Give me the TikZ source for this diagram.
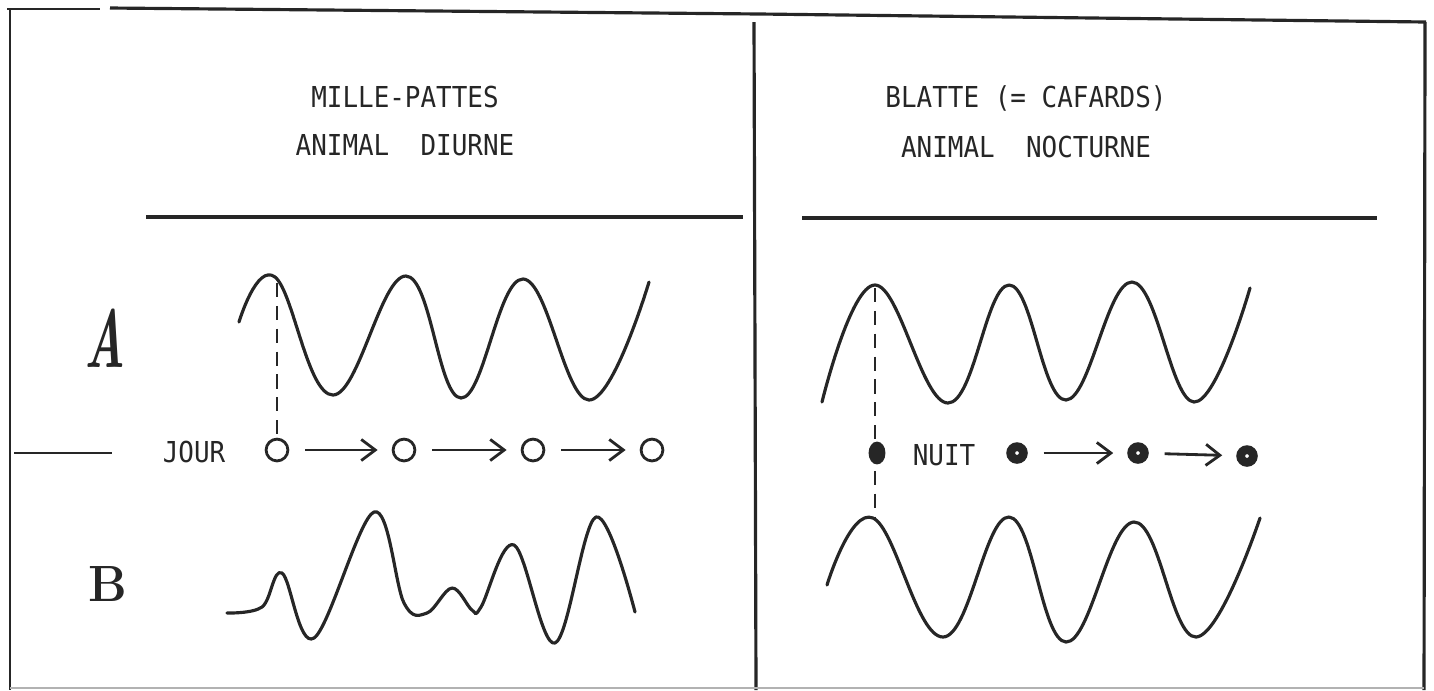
\documentclass[tikz,border=0pt]{standalone}
\usepackage{fontspec}
\newfontfamily\printfont[FakeStretch=0.9]{DejaVu Sans Mono}
\usetikzlibrary{arrows.meta, shapes.geometric}
\colorlet{ink}{black!85}
\begin{document}
\begin{tikzpicture}[x=0.01cm, y=-0.01cm, ink,
    frame/.style={line width=0.9pt},
    wave/.style={line width=0.9pt, line cap=round, line join=round},
    label/.style={font=\printfont\fontsize{8.2}{10}\selectfont, inner sep=0pt, anchor=base},
    day/.style={circle, draw, line width=0.8pt, minimum size=6.2pt, inner sep=0pt},
    night/.style={circle, draw, fill=white, line width=2.5pt, minimum size=3.6pt, inner sep=0pt},
    hop/.style={-{Straight Barb[length=4pt, width=6pt]}, line width=0.8pt, shorten <=4.5pt, shorten >=4pt}]
    \useasboundingbox (0,0) rectangle (1434,690);

    % Frame
    \draw[line width=0.6pt] (7,9) -- (100,9);
    \draw[frame] (110,8) -- (760,14) -- (1426,22);
    \draw[line width=0.5pt] (10,9) -- (10,690);
    \draw[frame] (754,22) -- (756,690);
    \draw[frame] (1425,22) -- (1424,690);
    \draw[line width=0.4pt, black!30] (10,688) -- (1424,688);
    \draw[line width=0.7pt] (14,453) -- (112,453);

    % Titles
    \node[label] (millepattes) at (405,107) {MILLE-PATTES};
    \node[label] (diurne) at (405,155) {ANIMAL\ \ DIURNE};
    \node[label] (blatte) at (1026,107) {BLATTE (= CAFARDS)};
    \node[label] (nocturne) at (1026,157) {ANIMAL\ \ NOCTURNE};
    \draw[line width=1pt] (146,217) -- (743,217);
    \draw[line width=1pt] (802,218) -- (1377,218);

    % Rows
    \node (rowA) at (105,338) {\scalebox{0.75}[1.3]{\fontsize{18}{20}\selectfont\bfseries\itshape A}};
    \node (rowB) at (108,584) {\scalebox{0.95}[1]{\fontsize{14.5}{16}\selectfont\bfseries B}};

    % Left waves
    \draw[wave] plot[smooth, tension=0.7] coordinates {(239,322) (275,277) (333,395) (406,276) (461,398) (523,279) (589,400) (649,282)};
    \draw[wave] plot[smooth, tension=0.6] coordinates {(227,613) (262,607) (282,573) (314,638) (374,512) (404,603) (427,613) (452,588) (472,610) (481,607) (514,545) (555,643) (596,517) (635,612)};

    % Day
    \node[label] (jour) at (194,462) {JOUR};
    \node[day] (j1) at (277,450) {};
    \node[day] (j2) at (404,450) {};
    \node[day] (j3) at (533,450) {};
    \node[day] (j4) at (652,450) {};
    \coordinate (peakL) at (277,283);
    \draw[line width=0.7pt, dash pattern=on 4pt off 2.5pt] (peakL) -- (j1);
    \draw[hop] (j1) -- (j2);
    \draw[hop] (j2) -- (j3);
    \draw[hop] (j3) -- (j4);

    % Right waves
    \draw[wave] plot[smooth, tension=0.7] coordinates {(822,402) (875,285) (948,403) (1009,285) (1066,400) (1132,282) (1194,402) (1250,288)};
    \draw[wave] plot[smooth, tension=0.7] coordinates {(827,585) (873,518) (943,637) (1009,517) (1066,642) (1134,522) (1196,637) (1260,518)};

    % Night
    \coordinate (peakR) at (875,288);
    \coordinate (peakRB) at (875,518);
    \draw[line width=0.7pt, dash pattern=on 4pt off 2.5pt] (peakR) -- (peakRB);
    \node[ellipse, fill, inner sep=0pt, minimum width=4.8pt, minimum height=6.5pt] (n1) at (877,453) {};
    \node[label] (nuit) at (944,465) {NUIT};
    \node[night] (n2) at (1017,453) {};
    \node[night] (n3) at (1138,453) {};
    \node[night] (n4) at (1247,456) {};
    \draw[hop] (n2) -- (n3);
    \draw[hop] (n3) -- (n4);
\end{tikzpicture}
\end{document}
